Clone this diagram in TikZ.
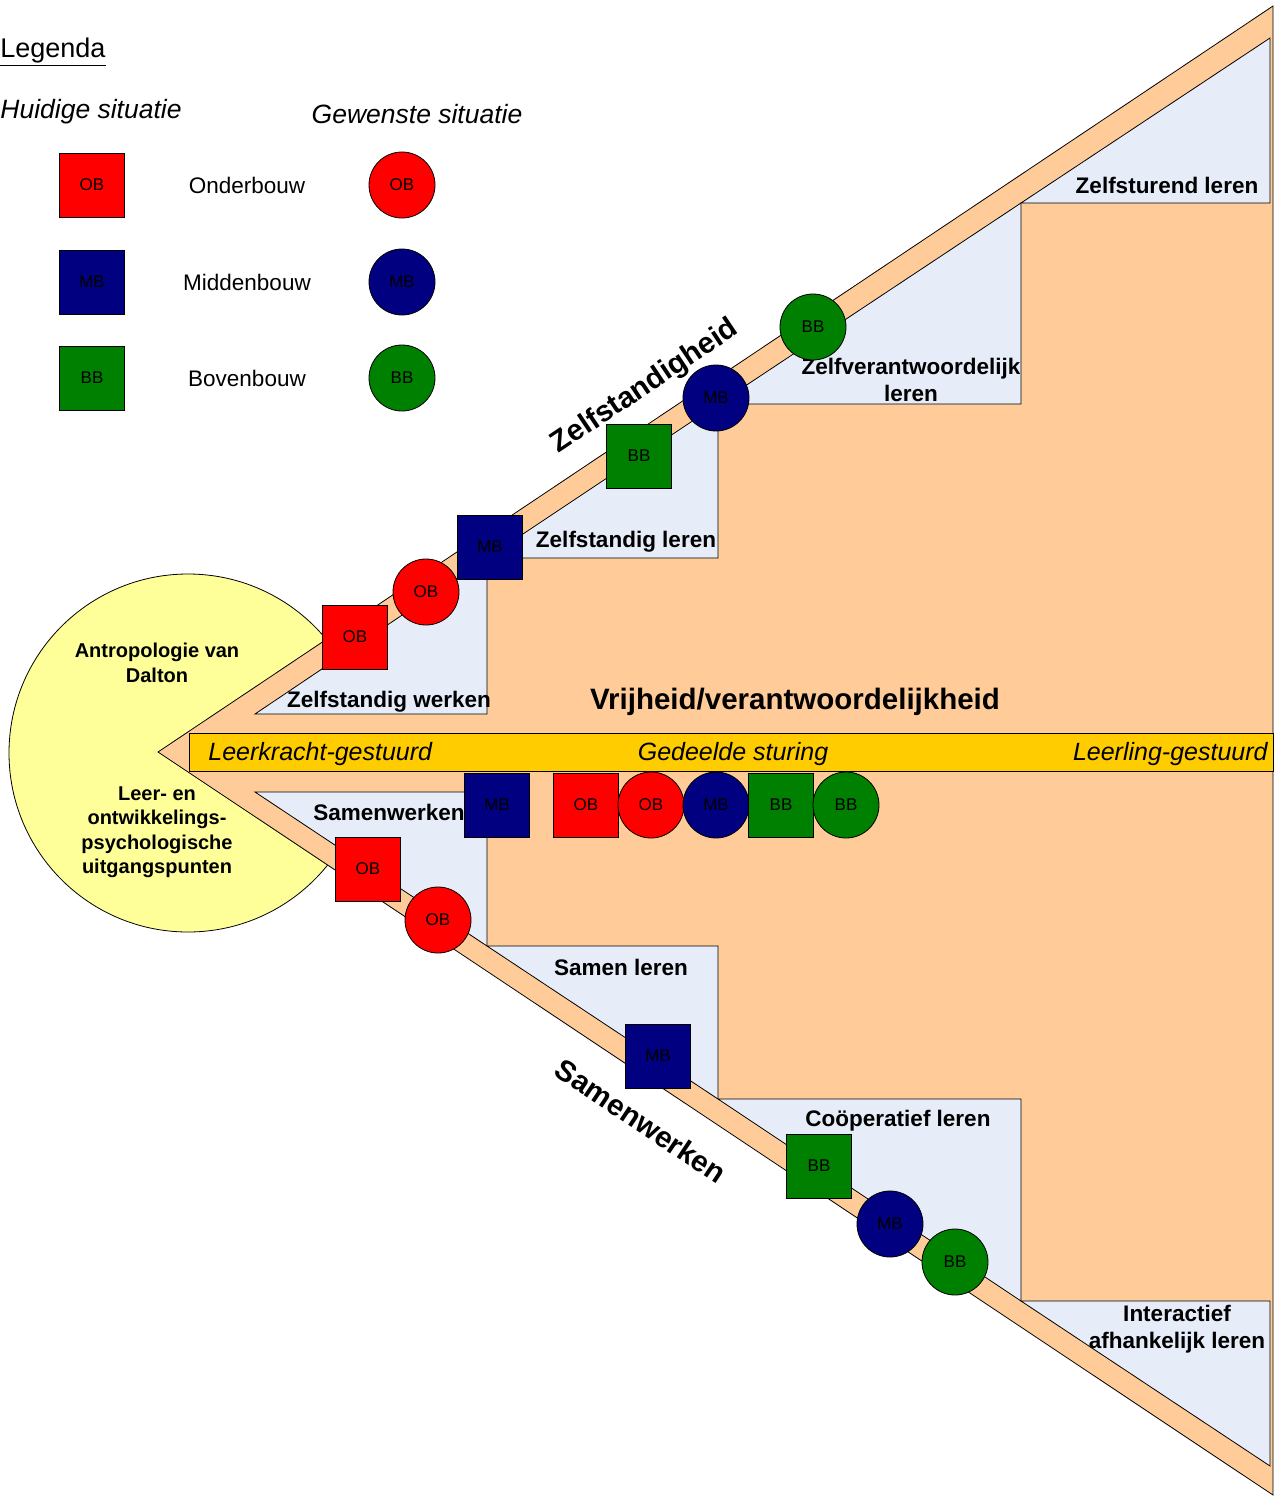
\documentclass[tikz,border=0pt]{standalone}
\usepackage{fontspec}
\setmainfont{Liberation Sans}
\usetikzlibrary{positioning}

\definecolor{perzik}{HTML}{FFCC99}
\definecolor{bleekblauw}{HTML}{E6ECF8}
\definecolor{lichtgeel}{HTML}{FFFF99}
\definecolor{balkgeel}{HTML}{FFCC00}
\definecolor{obrood}{HTML}{FF0000}
\definecolor{mbblauw}{HTML}{000080}
\definecolor{bbgroen}{HTML}{008000}

\begin{document}
\begin{tikzpicture}[x=1pt,y=-1pt,line width=0.8pt,
  every node/.style={inner sep=0pt},
  nu/.style={draw,minimum width=65pt,minimum height=64pt,font=\fontsize{17}{17}\selectfont},
  doel/.style={draw,circle,minimum size=66pt,font=\fontsize{17}{17}\selectfont},
  obkl/.style={fill=obrood}, mbkl/.style={fill=mbblauw}, bbkl/.style={fill=bbgroen},
  trede/.style={font=\fontsize{22.5}{27.5}\selectfont\bfseries,align=center},
  richting/.style={font=\fontsize{29.5}{29.5}\selectfont\bfseries},
  stuur/.style={font=\fontsize{25}{25}\selectfont\itshape},
  bron/.style={font=\fontsize{20}{24.5}\selectfont\bfseries,align=center},
  legtxt/.style={font=\fontsize{22.5}{22.5}\selectfont}]

  \useasboundingbox (0,0) rectangle (1282,1497);

  % legenda
  \node[font=\fontsize{27}{27}\selectfont,anchor=west] (leg) at (0,52) {\underline{Legenda}};
  \node[font=\fontsize{26.5}{26.5}\selectfont\itshape,anchor=west] (hui) at (0,112) {Huidige situatie};
  \node[font=\fontsize{26.5}{26.5}\selectfont\itshape] (gew) at (417,114) {Gewenste situatie};
  \foreach \kl/\af/\naam/\y in {obkl/OB/Onderbouw/185, mbkl/MB/Middenbouw/282, bbkl/BB/Bovenbouw/378}{
    \node[nu,\kl] (l\af) at (92,\y) {\af};
    \node[legtxt] (n\af) at (247,\y) {\naam};
    \node[doel,\kl] (c\af) at (402,\y) {\af};
  }

  % bron en driehoek
  \draw[fill=lichtgeel] (188,753) circle[radius=179pt];
  \draw[fill=perzik] (158,752) -- (1273,6) -- (1273,1495) -- cycle;

  % treden
  \foreach \xa/\xb/\ya/\yb in {255/487/714/558, 487/718/558/404, 718/1021/404/203, 1021/1270/203/38}
    \draw[fill=bleekblauw] (\xa,\ya) -- (\xb,\ya) -- (\xb,\yb) -- cycle;
  \foreach \xa/\xb/\ya/\yb in {255/487/792/946, 487/718/946/1099, 718/1021/1099/1301, 1021/1270/1301/1466}
    \draw[fill=bleekblauw] (\xa,\ya) -- (\xb,\ya) -- (\xb,\yb) -- cycle;

  % sturing
  \draw[fill=balkgeel] (189,733) rectangle (1273,771);
  \node[stuur,anchor=west] (lkr) at (208,754) {Leerkracht-gestuurd};
  \node[stuur] (ged) at (733,754) {Gedeelde sturing};
  \node[stuur,anchor=east] (lln) at (1268,754) {Leerling-gestuurd};

  % teksten
  \node[bron] (antro) at (157,663) {Antropologie van\\Dalton};
  \node[bron] (leer) at (157,832) {Leer- en\\ontwikkelings-\\psychologische\\uitgangspunten};
  \node[richting] (vrij) at (795,702) {Vrijheid/verantwoordelijkheid};
  \node[richting,rotate=33.8] (zelf) at (645,387) {Zelfstandigheid};
  \node[richting,rotate=-33.8] (samen) at (641,1121) {Samenwerken};

  \node[trede] (zw) at (389,702) {Zelfstandig werken};
  \node[trede] (zl) at (626,542) {Zelfstandig leren};
  \node[trede] (zvl) at (911,380) {Zelfverantwoordelijk\\leren};
  \node[trede] (zsl) at (1167,185) {Zelfsturend leren};
  \node[trede] (sw) at (389,812) {Samenwerken};
  \node[trede] (sl) at (621,967) {Samen leren};
  \node[trede] (col) at (898,1121) {Coöperatief leren};
  \node[trede] (ial) at (1177,1329) {Interactief\\afhankelijk leren};

  % zelfstandigheid
  \node[nu,obkl] (zob) at (355,637) {OB};
  \node[doel,obkl] (zobc) at (426,592) {OB};
  \node[nu,mbkl] (zmb) at (490,547) {MB};
  \node[nu,bbkl] (zbb) at (639,456) {BB};
  \node[doel,mbkl] (zmbc) at (716,398) {MB};
  \node[doel,bbkl] (zbbc) at (813,327) {BB};

  % samenwerken
  \node[nu,mbkl] (smb) at (497,805) {MB};
  \node[nu,obkl] (sob) at (368,869) {OB};
  \node[doel,obkl] (sobc) at (438,920) {OB};
  \node[nu,mbkl] (smb2) at (658,1056) {MB};
  \node[nu,bbkl] (sbb) at (819,1166) {BB};
  \node[doel,mbkl] (smbc) at (890,1224) {MB};
  \node[doel,bbkl] (sbbc) at (955,1262) {BB};

  % gedeelde sturing
  \node[nu,obkl] (gob) at (586,805) {OB};
  \node[doel,obkl] (gobc) at (651,805) {OB};
  \node[doel,mbkl] (gmbc) at (716,805) {MB};
  \node[nu,bbkl] (gbb) at (781,805) {BB};
  \node[doel,bbkl] (gbbc) at (846,805) {BB};
\end{tikzpicture}
\end{document}
